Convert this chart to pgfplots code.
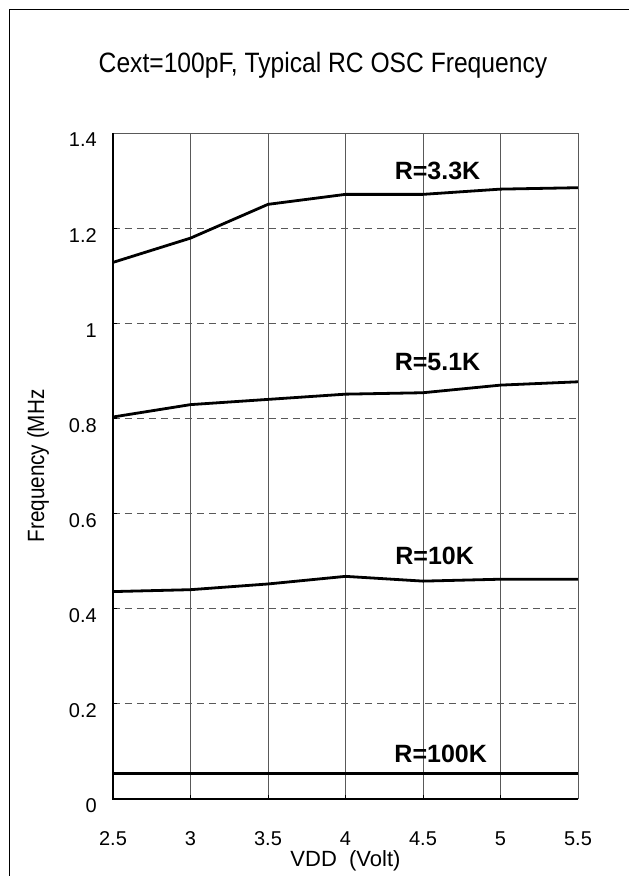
\documentclass[border=0pt]{standalone}
\usepackage{fontspec}
\setmainfont{Liberation Sans}
\newfontfamily\narrowfont[FakeStretch=0.88]{Liberation Sans}
\usepackage{pgfplots}
\pgfplotsset{compat=1.18}
\pgfplotstableread{
x y
2.5 1.128
3.0 1.179
3.5 1.250
4.0 1.271
4.5 1.271
5.0 1.282
5.5 1.285
}\rthree
\pgfplotstableread{
x y
2.5 0.803
3.0 0.829
3.5 0.840
4.0 0.851
4.5 0.854
5.0 0.870
5.5 0.877
}\rfive
\pgfplotstableread{
x y
2.5 0.436
3.0 0.440
3.5 0.452
4.0 0.468
4.5 0.458
5.0 0.462
5.5 0.462
}\rten
\pgfplotstableread{
x y
2.5 0.053
3.0 0.053
3.5 0.053
4.0 0.053
4.5 0.053
5.0 0.053
5.5 0.053
}\rhundred
\begin{document}
\begin{tikzpicture}
\begin{axis}[
  at={(0,0)}, anchor=south west,
  scale only axis, width=465bp, height=666bp,
  xmin=2.5, xmax=5.5, ymin=0, ymax=1.4,
  xtick={2.5,3,3.5,4,4.5,5,5.5},
  xticklabels={2.5,3,3.5,4,4.5,5,5.5},
  ytick={0,0.2,0.4,0.6,0.8,1,1.2,1.4},
  yticklabels={0,0.2,0.4,0.6,0.8,1,1.2,1.4},
  xtick pos=bottom, ytick pos=left,
  tick align=inside, major tick length=4bp,
  tick style={black, line width=0.8bp},
  xmajorgrids, ymajorgrids,
  x grid style={draw=black!65, line width=0.8bp, solid},
  y grid style={draw=black!65, line width=0.8bp, dash pattern=on 7bp off 5bp},
  axis line style={draw=none},
  /pgf/number format/assume math mode=true,
  xticklabel style={font=\fontsize{20bp}{22bp}\selectfont, anchor=base, yshift=-46bp, inner sep=0pt},
  yticklabel style={font=\fontsize{20bp}{22bp}\selectfont, anchor=east, inner sep=0pt, xshift=-16bp, yshift=-7bp},
  title={Cext=100pF, Typical RC OSC Frequency},
  title style={at={(axis description cs:0.4516,1.093)}, anchor=center, font=\narrowfont\fontsize{28bp}{30bp}\selectfont, inner sep=0pt},
  xlabel={VDD\ \ (Volt)},
  xlabel style={at={(axis description cs:0.5,-0.0931)}, anchor=center, font=\fontsize{22bp}{24bp}\selectfont, inner sep=0pt},
  ylabel={Frequency (MHz},
  ylabel style={at={(axis description cs:-0.1613,0.5)}, anchor=center, font=\narrowfont\fontsize{23.5bp}{25bp}\selectfont, inner sep=0pt},
  clip=false,
]
\addplot[black, line width=2.8bp, no marks] table[x=x,y=y] {\rthree};
\addplot[black, line width=2.8bp, no marks] table[x=x,y=y] {\rfive};
\addplot[black, line width=2.8bp, no marks] table[x=x,y=y] {\rten};
\addplot[black, line width=2.8bp, no marks] table[x=x,y=y] {\rhundred};
\draw[black!65, line width=0.8bp] (rel axis cs:0,1) -- (rel axis cs:1,1) -- (rel axis cs:1,0);
\draw[black, line width=1.3bp] (rel axis cs:0,1) -- (rel axis cs:0,0) -- (rel axis cs:1,0);
\node[font=\bfseries\fontsize{25bp}{27bp}\selectfont, inner sep=0pt] at (axis cs:4.594,1.321) {R=3.3K};
\node[font=\bfseries\fontsize{25bp}{27bp}\selectfont, inner sep=0pt] at (axis cs:4.594,0.918) {R=5.1K};
\node[font=\bfseries\fontsize{25bp}{27bp}\selectfont, inner sep=0pt] at (axis cs:4.575,0.511) {R=10K};
\node[font=\bfseries\fontsize{25bp}{27bp}\selectfont, inner sep=0pt] at (axis cs:4.614,0.095) {R=100K};
\end{axis}
\draw[black, line width=1.3bp] (-103.5bp,-77bp) -- (-103.5bp,789.5bp) -- (516bp,789.5bp);
\pgfresetboundingbox
\path (-113bp,-77bp) rectangle (516bp,799bp);
\end{tikzpicture}
\end{document}
